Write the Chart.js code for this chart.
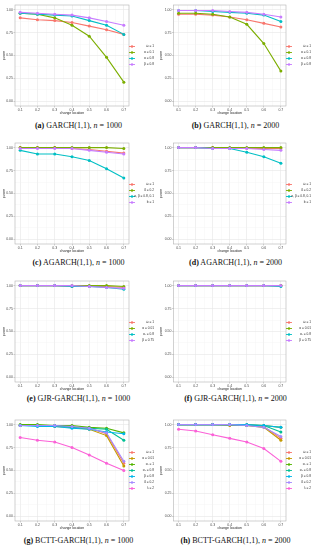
<!DOCTYPE html>
<html><head><meta charset="utf-8">
<script src="https://cdn.jsdelivr.net/npm/chart.js@4.4.1/dist/chart.umd.min.js"></script>
<style>
html,body{margin:0;padding:0;background:#fff;width:314px;height:550px;overflow:hidden;position:relative;}
canvas{position:absolute;}
.cap{position:absolute;width:157px;text-align:center;font-family:'Liberation Serif','DejaVu Serif',serif;font-size:8px;line-height:10px;color:#111;white-space:nowrap;}
</style></head><body>
<script>
// ---------- data ----------
const changeLocations = [0.1, 0.2, 0.3, 0.4, 0.5, 0.6, 0.7];
const xTickLabels = ['0.1', '0.2', '0.3', '0.4', '0.5', '0.6', '0.7'];
const yTickLabels = ['0.00', '0.25', '0.50', '0.75', '1.00'];
const yTickValues = [0, 0.25, 0.5, 0.75, 1];

// (a) GARCH(1,1), n = 1000
const garchLabels = ['ω = 1', 'α = 0.1', 'α = 0.8', 'β = 0.8'];
const garch1000_s1 = [0.91, 0.89, 0.88, 0.86, 0.82, 0.78, 0.73];
const garch1000_s2 = [0.96, 0.95, 0.91, 0.83, 0.71, 0.48, 0.21];
const garch1000_s3 = [0.96, 0.95, 0.94, 0.93, 0.88, 0.83, 0.73];
const garch1000_s4 = [0.97, 0.96, 0.95, 0.94, 0.91, 0.87, 0.83];
// (b) GARCH(1,1), n = 2000
const garch2000_s1 = [0.95, 0.95, 0.94, 0.92, 0.89, 0.85, 0.81];
const garch2000_s2 = [0.96, 0.96, 0.95, 0.92, 0.84, 0.63, 0.33];
const garch2000_s3 = [0.99, 0.99, 0.98, 0.97, 0.96, 0.94, 0.87];
const garch2000_s4 = [0.99, 0.99, 0.99, 0.98, 0.97, 0.95, 0.92];

// (c) AGARCH(1,1), n = 1000
const agarchLabels = ['ω = 1', 'δ = 0.2', 'α, β = 0.8, 0.1', 'b = 1'];
const agarch1000_s1 = [1.00, 1.00, 1.00, 0.99, 0.98, 0.96, 0.94];
const agarch1000_s2 = [1.00, 1.00, 1.00, 1.00, 1.00, 1.00, 0.99];
const agarch1000_s3 = [0.97, 0.93, 0.93, 0.90, 0.86, 0.77, 0.67];
const agarch1000_s4 = [0.99, 0.99, 0.99, 0.99, 0.97, 0.95, 0.93];
// (d) AGARCH(1,1), n = 2000
const agarch2000_s1 = [1.00, 1.00, 1.00, 0.99, 0.99, 0.99, 0.99];
const agarch2000_s2 = [1.00, 1.00, 1.00, 1.00, 1.00, 1.00, 1.00];
const agarch2000_s3 = [1.00, 1.00, 0.99, 0.99, 0.95, 0.90, 0.83];
const agarch2000_s4 = [1.00, 1.00, 0.99, 0.99, 0.99, 0.98, 0.97];

// (e) GJR-GARCH(1,1), n = 1000
const gjrLabels = ['ω = 1', 'α = 0.01', 'α₁ = 0.8', 'β = 0.75'];
const gjr1000_s1 = [1.00, 1.00, 1.00, 0.99, 0.99, 0.99, 0.98];
const gjr1000_s2 = [1.00, 1.00, 1.00, 1.00, 1.00, 1.00, 0.99];
const gjr1000_s3 = [1.00, 1.00, 1.00, 0.99, 0.99, 0.98, 0.96];
const gjr1000_s4 = [1.00, 1.00, 1.00, 1.00, 0.99, 0.98, 0.97];
// (f) GJR-GARCH(1,1), n = 2000
const gjr2000_s1 = [1.00, 1.00, 1.00, 1.00, 1.00, 1.00, 1.00];
const gjr2000_s2 = [1.00, 1.00, 1.00, 1.00, 1.00, 1.00, 1.00];
const gjr2000_s3 = [1.00, 1.00, 1.00, 1.00, 1.00, 1.00, 0.99];
const gjr2000_s4 = [1.00, 1.00, 1.00, 1.00, 1.00, 1.00, 1.00];

// (g) BCTT-GARCH(1,1), n = 1000
const bcttLabels = ['ω = 1', 'α = 0.01', 'α₁ = 1', 'α₂ = 0.8', 'β = 0.8', 'δ = 0.2', 'λ = 2'];
const bctt1000_s1 = [0.99, 0.99, 0.99, 0.98, 0.96, 0.90, 0.58];
const bctt1000_s2 = [0.99, 0.99, 0.98, 0.97, 0.95, 0.88, 0.55];
const bctt1000_s3 = [1.00, 1.00, 0.99, 0.99, 0.97, 0.96, 0.91];
const bctt1000_s4 = [0.99, 0.99, 0.99, 0.97, 0.96, 0.95, 0.83];
const bctt1000_s5 = [0.99, 0.98, 0.98, 0.96, 0.95, 0.92, 0.90];
const bctt1000_s6 = [0.99, 0.99, 0.99, 0.98, 0.96, 0.91, 0.60];
const bctt1000_s7 = [0.86, 0.83, 0.81, 0.75, 0.67, 0.58, 0.50];
// (h) BCTT-GARCH(1,1), n = 2000
const bctt2000_s1 = [1.00, 1.00, 1.00, 1.00, 0.99, 0.98, 0.85];
const bctt2000_s2 = [1.00, 1.00, 1.00, 0.99, 0.99, 0.97, 0.83];
const bctt2000_s3 = [1.00, 1.00, 1.00, 1.00, 1.00, 0.99, 0.97];
const bctt2000_s4 = [1.00, 1.00, 1.00, 1.00, 0.99, 0.99, 0.92];
const bctt2000_s5 = [1.00, 1.00, 1.00, 1.00, 1.00, 0.99, 0.97];
const bctt2000_s6 = [1.00, 1.00, 1.00, 1.00, 0.99, 0.97, 0.87];
const bctt2000_s7 = [0.95, 0.93, 0.89, 0.85, 0.81, 0.74, 0.60];

// ---------- styling ----------
const pal4 = ['#F8766D', '#7CAE00', '#00BFC4', '#C77CFF'];
const pal7 = ['#F8766D', '#C49A00', '#53B400', '#00C094', '#00B6EB', '#A58AFF', '#FB61D7'];

const panels = [
  {col:0,row:0,cap:'<b>(a)</b> GARCH(1,1), <i>n</i> = 1000',labels:garchLabels,pal:pal4,series:[garch1000_s1,garch1000_s2,garch1000_s3,garch1000_s4]},
  {col:1,row:0,cap:'<b>(b)</b> GARCH(1,1), <i>n</i> = 2000',labels:garchLabels,pal:pal4,series:[garch2000_s1,garch2000_s2,garch2000_s3,garch2000_s4]},
  {col:0,row:1,cap:'<b>(c)</b> AGARCH(1,1), <i>n</i> = 1000',labels:agarchLabels,pal:pal4,series:[agarch1000_s1,agarch1000_s2,agarch1000_s3,agarch1000_s4]},
  {col:1,row:1,cap:'<b>(d)</b> AGARCH(1,1), <i>n</i> = 2000',labels:agarchLabels,pal:pal4,series:[agarch2000_s1,agarch2000_s2,agarch2000_s3,agarch2000_s4]},
  {col:0,row:2,cap:'<b>(e)</b> GJR-GARCH(1,1), <i>n</i> = 1000',labels:gjrLabels,pal:pal4,series:[gjr1000_s1,gjr1000_s2,gjr1000_s3,gjr1000_s4]},
  {col:1,row:2,cap:'<b>(f)</b> GJR-GARCH(1,1), <i>n</i> = 2000',labels:gjrLabels,pal:pal4,series:[gjr2000_s1,gjr2000_s2,gjr2000_s3,gjr2000_s4]},
  {col:0,row:3,cap:'<b>(g)</b> BCTT-GARCH(1,1), <i>n</i> = 1000',labels:bcttLabels,pal:pal7,series:[bctt1000_s1,bctt1000_s2,bctt1000_s3,bctt1000_s4,bctt1000_s5,bctt1000_s6,bctt1000_s7]},
  {col:1,row:3,cap:'<b>(h)</b> BCTT-GARCH(1,1), <i>n</i> = 2000',labels:bcttLabels,pal:pal7,series:[bctt2000_s1,bctt2000_s2,bctt2000_s3,bctt2000_s4,bctt2000_s5,bctt2000_s6,bctt2000_s7]},
];
const rowTops = [1, 139, 277, 416];
const capCenters = [126, 263, 399, 541];
const CW = 157, CH = 115;
const SANS = '"Liberation Sans", Arial, sans-serif';

const frameLegend = {
  id: 'frameLegend',
  afterDraw(chart) {
    const ctx = chart.ctx, a = chart.chartArea;
    ctx.save();
    ctx.strokeStyle = '#b3b3b3'; ctx.lineWidth = 0.6;
    ctx.strokeRect(a.left, a.top, a.right - a.left, a.bottom - a.top);
    const ds = chart.data.datasets, n = ds.length, sp = 6;
    const cy = (a.top + a.bottom) / 2, y0 = cy - (n - 1) * sp / 2;
    ctx.font = '3.2px ' + SANS; ctx.textAlign = 'right'; ctx.textBaseline = 'middle';
    ds.forEach((d, i) => {
      const y = y0 + i * sp, x = a.right + 3;
      ctx.strokeStyle = d.borderColor; ctx.lineWidth = 0.9;
      ctx.beginPath(); ctx.moveTo(x - 3, y); ctx.lineTo(x + 3, y); ctx.stroke();
      ctx.fillStyle = d.borderColor; ctx.beginPath(); ctx.arc(x, y, 1.2, 0, Math.PI * 2); ctx.fill();
      ctx.fillStyle = '#333'; ctx.fillText(d.label, a.right + 25, y);
    });
    ctx.restore();
  }
};

function xGridValues() {
  const v = [];
  changeLocations.forEach((x, i) => { v.push(x); if (i < changeLocations.length - 1) v.push((x + changeLocations[i + 1]) / 2); });
  return v;
}
function yGridValues() {
  const v = [];
  yTickValues.forEach((y, i) => { v.push(y); if (i < yTickValues.length - 1) v.push((y + yTickValues[i + 1]) / 2); });
  return v;
}

panels.forEach(p => {
  const cv = document.createElement('canvas');
  cv.width = CW; cv.height = CH;
  cv.style.left = (p.col * CW) + 'px'; cv.style.top = rowTops[p.row] + 'px';
  document.body.appendChild(cv);
  const cap = document.createElement('div');
  cap.className = 'cap'; cap.innerHTML = p.cap;
  cap.style.left = (p.col * CW) + 'px'; cap.style.top = (capCenters[p.row] - 5) + 'px';
  document.body.appendChild(cap);
  const leftW = p.col === 0 ? 15 : 16.5;
  new Chart(cv, {
    type: 'line',
    data: {
      datasets: p.series.map((s, i) => ({
        label: p.labels[i],
        data: s.map((v, k) => ({x: changeLocations[k], y: v})),
        borderColor: p.pal[i], backgroundColor: p.pal[i],
        borderWidth: 1.1, pointRadius: 1.5, pointBorderWidth: 0, tension: 0,
        order: p.series.length - i
      }))
    },
    options: {
      responsive: false, animation: false, devicePixelRatio: 1,
      layout: {padding: {top: 1, left: 0, right: 28, bottom: 0}},
      plugins: {legend: {display: false}, tooltip: {enabled: false}},
      scales: {
        x: {
          type: 'linear', min: 0.07, max: 0.73,
          afterBuildTicks: s => { s.ticks = xGridValues().map(v => ({value: v})); },
          afterFit: s => { s.height = 10; },
          border: {display: false},
          grid: {
            color: c => c.index % 2 === 0 ? '#e6e6e6' : '#f2f2f2',
            lineWidth: c => c.index % 2 === 0 ? 0.6 : 0.4,
            tickLength: 1.5,
            tickColor: c => c.index % 2 === 0 ? '#b3b3b3' : 'rgba(0,0,0,0)'
          },
          ticks: {
            autoSkip: false, maxRotation: 0, padding: 0.5, color: '#4d4d4d',
            font: {size: 3.5, family: SANS},
            callback: (v, i) => i % 2 === 0 ? xTickLabels[i / 2] : ''
          },
          title: {display: true, text: 'change location', color: '#222', font: {size: 3.5, family: SANS}, padding: {top: 0, bottom: 0.5}}
        },
        y: {
          type: 'linear', min: -0.05, max: 1.05,
          afterBuildTicks: s => { s.ticks = yGridValues().map(v => ({value: v})); },
          afterFit: s => { s.width = leftW; },
          border: {display: false},
          grid: {
            color: c => c.index % 2 === 0 ? '#e6e6e6' : '#f2f2f2',
            lineWidth: c => c.index % 2 === 0 ? 0.6 : 0.4,
            tickLength: 1.5,
            tickColor: c => c.index % 2 === 0 ? '#b3b3b3' : 'rgba(0,0,0,0)'
          },
          ticks: {
            autoSkip: false, padding: 0.5, color: '#4d4d4d',
            font: {size: 3.5, family: SANS},
            callback: (v, i) => i % 2 === 0 ? yTickLabels[i / 2] : ''
          },
          title: {display: true, text: 'power', color: '#222', font: {size: 3.5, family: SANS}, padding: {top: 1.5, bottom: 0}}
        }
      }
    },
    plugins: [frameLegend]
  });
});
</script>
</body></html>
